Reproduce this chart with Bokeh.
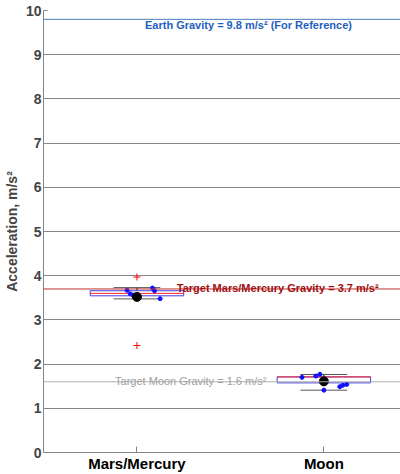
from bokeh.plotting import figure
from bokeh.models import Range1d, FixedTicker, Label, Span, ColumnDataSource
from bokeh.embed import file_html
from bokeh.resources import INLINE

FONT = "Liberation Sans"

# ---- data ----
categories = ["Mars/Mercury", "Moon"]
cat_pos = [1, 2]

mars_values = [3.67, 3.72, 3.59, 3.56, 3.66, 3.48]
mars_jitter = [-0.053, 0.083, -0.036, -0.021, 0.094, 0.124]
mars_outliers = [3.97, 2.42]

moon_values = [1.70, 1.73, 1.77, 1.41, 1.49, 1.52, 1.54]
moon_jitter = [-0.117, -0.043, -0.021, 0.0, 0.085, 0.101, 0.122]
moon_outliers = []

q1 = [3.545, 1.575]
median = [3.60, 1.71]
q3 = [3.66, 1.71]
lower_whisker = [3.475, 1.41]
upper_whisker = [3.73, 1.765]
means = [3.52, 1.61]

earth_g = 9.8
mars_target = 3.7
moon_target = 1.6

y_ticks = list(range(0, 11))

# ---- figure ----
p = figure(width=400, height=474, output_backend="svg", toolbar_location=None,
           x_range=Range1d(0.5, 2.41), y_range=Range1d(0, 10),
           min_border_left=41, min_border_right=0, min_border_top=10, min_border_bottom=22)
p.outline_line_color = None
p.xgrid.grid_line_color = None
p.ygrid.ticker = FixedTicker(ticks=y_ticks)
p.ygrid.grid_line_color = "#858585"
p.ygrid.grid_line_width = 1

# axes
xa = p.xaxis[0]
xa.ticker = FixedTicker(ticks=cat_pos)
xa.major_label_overrides = {c: n for c, n in zip(cat_pos, categories)}
xa.major_label_text_font = FONT
xa.major_label_text_font_style = "bold"
xa.major_label_text_font_size = "15px"
xa.major_label_text_color = "black"
xa.major_label_standoff = 2
xa.major_tick_in = 6
xa.major_tick_out = 0
xa.minor_tick_line_color = None
xa.axis_line_color = "#858585"
xa.major_tick_line_color = "#858585"

ya = p.yaxis[0]
ya.ticker = FixedTicker(ticks=y_ticks)
ya.axis_label = "Acceleration, m/s²"
ya.axis_label_text_font = FONT
ya.axis_label_text_font_style = "bold"
ya.axis_label_text_font_size = "14px"
ya.axis_label_standoff = 3
ya.major_label_text_font = FONT
ya.major_label_text_font_style = "bold"
ya.major_label_text_font_size = "14px"
ya.major_label_standoff = 2
ya.major_tick_in = 4
ya.major_tick_out = 0
ya.minor_tick_line_color = None
ya.axis_line_color = "#858585"
ya.major_tick_line_color = "#858585"

# reference lines
p.add_layout(Span(location=earth_g, dimension="width", line_color="#4a7ebb", line_width=1))
p.add_layout(Span(location=mars_target, dimension="width", line_color="#c03030", line_width=1))
p.add_layout(Span(location=moon_target, dimension="width", line_color="#b0b0b0", line_width=1))

# boxes
half_w = 0.25
cap_w = 0.125
box = ColumnDataSource(dict(
    x=cat_pos,
    left=[c - half_w for c in cat_pos], right=[c + half_w for c in cat_pos],
    cl=[c - cap_w for c in cat_pos], cr=[c + cap_w for c in cat_pos],
    q1=q1, q3=q3, med=median, lw=lower_whisker, uw=upper_whisker, mean=means))

p.segment(x0="x", y0="q3", x1="x", y1="uw", source=box, line_color="black",
          line_dash="3 2", line_width=1)
p.segment(x0="x", y0="q1", x1="x", y1="lw", source=box, line_color="black",
          line_dash="3 2", line_width=1)
p.segment(x0="cl", y0="uw", x1="cr", y1="uw", source=box, line_color="#555555", line_width=1)
p.segment(x0="cl", y0="lw", x1="cr", y1="lw", source=box, line_color="#555555", line_width=1)
p.quad(left="left", right="right", bottom="q1", top="q3", source=box,
       fill_color=None, line_color="#4040e0", line_width=1)
p.segment(x0="left", y0="med", x1="right", y1="med", source=box, line_color="#ff2020", line_width=1)

# points
px = [cat_pos[0] + j for j in mars_jitter] + [cat_pos[1] + j for j in moon_jitter]
py = mars_values + moon_values
p.scatter(px, py, marker="circle", size=4, color="#1010ff")

ox = [cat_pos[0]] * len(mars_outliers) + [cat_pos[1]] * len(moon_outliers)
oy = mars_outliers + moon_outliers
p.scatter(ox, oy, marker="cross", size=7, line_color="red", line_width=1)

p.scatter(x=cat_pos, y=means, marker="circle", size=9, color="black")

# labels
p.add_layout(Label(x=1.043, y=earth_g, text="Earth Gravity = 9.8 m/s² (For Reference)",
                   text_baseline="top", y_offset=0, text_color="#1f5fc0",
                   text_font=FONT, text_font_style="bold", text_font_size="11px"))
p.add_layout(Label(x=1.213, y=mars_target, text="Target Mars/Mercury Gravity = 3.7 m/s²",
                   text_baseline="alphabetic", y_offset=1, text_color="#a01010",
                   text_font=FONT, text_font_style="bold", text_font_size="11px"))
p.add_layout(Label(x=0.883, y=moon_target, text="Target Moon Gravity = 1.6 m/s²",
                   text_baseline="alphabetic", y_offset=1, text_color="#a0a0a0",
                   text_font=FONT, text_font_style="normal", text_font_size="11px"))

open("out.html", "w").write(file_html(p, INLINE))
